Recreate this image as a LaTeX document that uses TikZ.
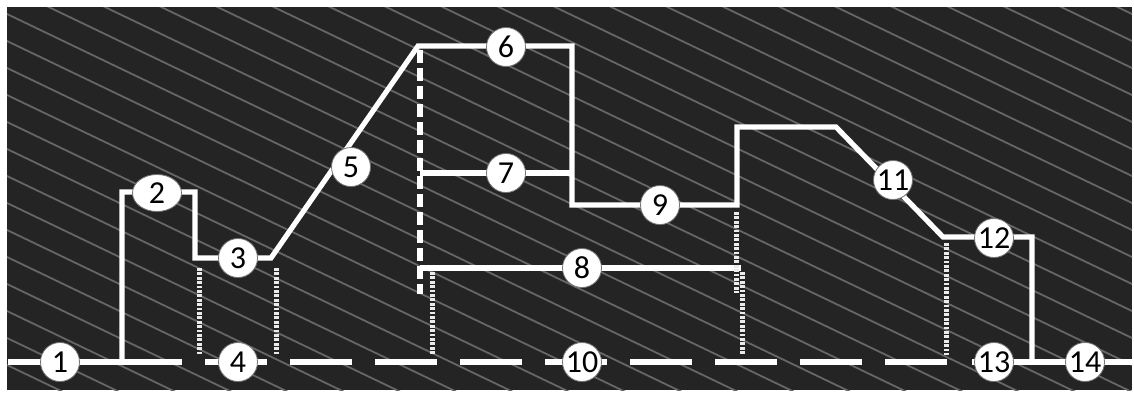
\documentclass[tikz,border=0pt]{standalone}
\usepackage{fontspec}
\setmainfont{Carlito}
\usetikzlibrary{shapes.geometric}

\begin{document}
\begin{tikzpicture}[x=0.5pt, y=-0.5pt,
  prof/.style={white, line width=2.6pt, line join=miter},
  gapline/.style={white, line width=2.6pt, dash pattern=on 31pt off 11.5pt},
  heavy/.style={white, line width=2.6pt, dash pattern=on 6.5pt off 2.5pt},
  fine/.style={white!92!black, line width=2.5pt, dash pattern=on 1.4pt off 0.8pt},
  num/.style={circle, fill=white, draw=black!55, line width=0.4pt, minimum size=19.5pt,
    inner sep=0pt, font=\fontsize{16}{16}\selectfont},
  oval/.style={num, ellipse, minimum width=24.5pt, minimum height=18.5pt}]
% background
\useasboundingbox (0,0) rectangle (1134,397);
\fill[white] (0,0) rectangle (1134,397);
\fill[black!86] (7,7) rectangle (1132,390);
\begin{scope}
\clip (7,7) rectangle (1132,390);
\foreach \k in {-580,-553,...,400}
  \draw[black!60, line width=0.9pt] (7,\k) -- (1132,\k+540);
\end{scope}
% corners of the profile
\coordinate (p0) at (122,362);  \coordinate (p1) at (122,192);
\coordinate (p2) at (195,192);  \coordinate (p3) at (195,258);
\coordinate (p4) at (271,258);  \coordinate (p5) at (418,46);
\coordinate (p6) at (572,46);   \coordinate (p7) at (572,205);
\coordinate (p8) at (737,205);  \coordinate (p9) at (737,127);
\coordinate (p10) at (836,127); \coordinate (p11) at (943,237);
\coordinate (p12) at (1032,237); \coordinate (p13) at (1032,362);
% base line
\coordinate (b0) at (8,362);    \coordinate (b1) at (182,362);
\coordinate (d0) at (205,362);  \coordinate (d1) at (951,362);
\coordinate (b2) at (972,362);  \coordinate (b3) at (1132,362);
% inner lines
\coordinate (h0) at (420,50);   \coordinate (h1) at (420,294);
\coordinate (s0) at (420,173);  \coordinate (s1) at (572,173);
\coordinate (m0) at (420,268);  \coordinate (m1) at (741,268);
\draw[prof] (b0) -- (b1);
\draw[gapline] (d0) -- (d1);
\draw[prof] (b2) -- (b3);
\draw[prof] (p0) -- (p1) -- (p2) -- (p3) -- (p4) -- (p5) -- (p6) -- (p7) -- (p8)
  -- (p9) -- (p10) -- (p11) -- (p12) -- (p13);
\draw[heavy] (h0) -- (h1);
\draw[prof] (s0) -- (s1);
\draw[prof] (m0) -- (m1);
\foreach \x/\ya/\yb in {199/268/355, 276/268/355, 432/272/355, 742/272/355,
    736/212/293, 946/243/355} {
  \coordinate (u\x) at (\x,\ya); \coordinate (v\x) at (\x,\yb);
  \draw[fine] (u\x) -- (v\x);}
% numbered marks
\foreach \n/\x/\y in {1/60/362, 3/238/258, 4/238/362, 5/351/167, 6/506/47,
    7/506/173, 8/582/268, 9/660/205, 10/582/362, 11/893/180, 12/994/238,
    13/994/362, 14/1085/362}
  \node[num] (n\n) at (\x,\y) {\n};
\node[oval] (n2) at (157,193) {2};
\end{tikzpicture}
\end{document}
